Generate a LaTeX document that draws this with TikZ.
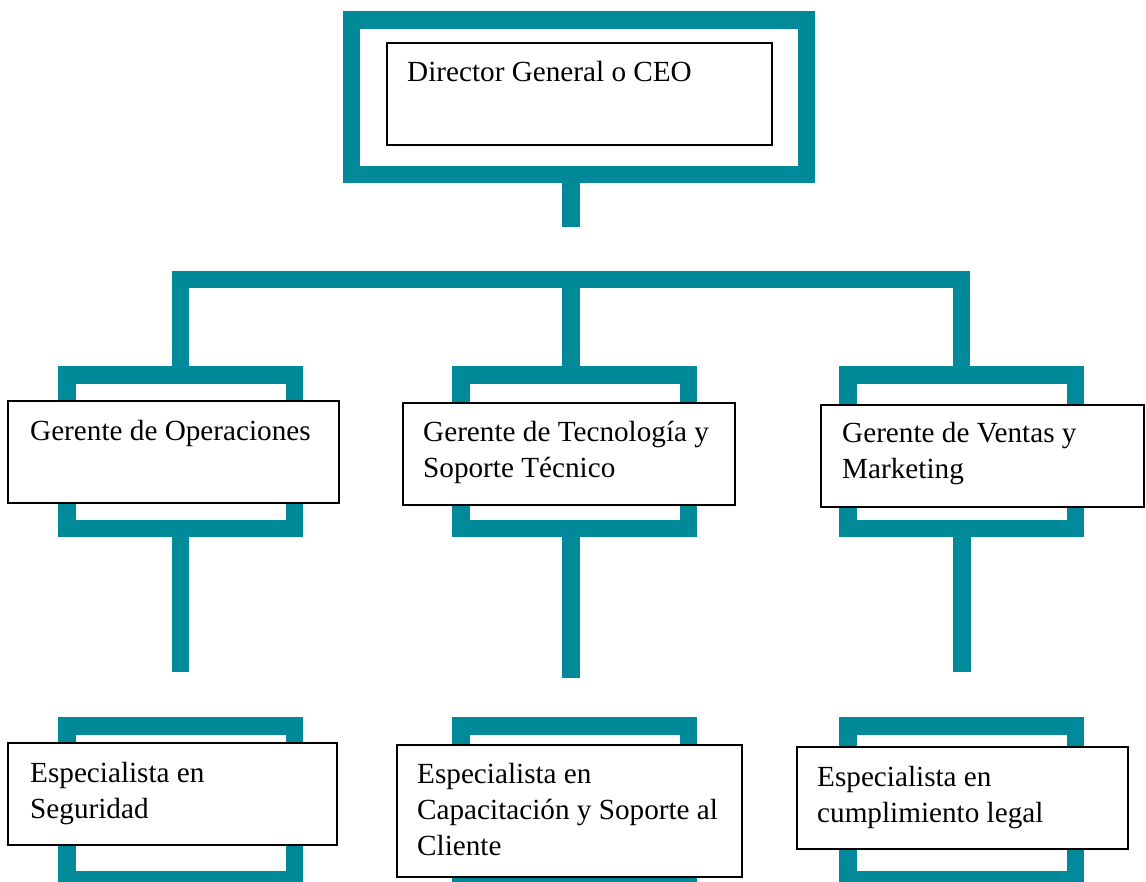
\documentclass[tikz,border=0pt]{standalone}
\usepackage{fontspec}
\setmainfont{Liberation Serif}
\definecolor{orgteal}{RGB}{0,137,153}
\tikzset{
  orgframe/.style={draw=orgteal, line width=17.5pt, minimum width=227.5pt, minimum height=153.5pt, inner sep=0pt},
  stem/.style={draw=orgteal, line width=17.5pt},
  namebox/.style={draw=black, line width=2pt, fill=white, inner sep=0pt},
  txt/.style={anchor=base west, inner sep=0pt, font=\fontsize{29.2}{36}\selectfont}
}
\newcommand{\lines}[1]{\begin{tabular}[t]{@{}l@{}}#1\end{tabular}}
\begin{document}
\begin{tikzpicture}[x=1pt,y=-1pt]
\useasboundingbox (0,0) rectangle (1146,881);
\node[orgframe, minimum width=455pt, minimum height=154.5pt] (ceoF) at (579,97.25) {};
\node[orgframe] (opsF) at (180.5,451.5) {};
\node[orgframe] (tecF) at (574.5,451.5) {};
\node[orgframe] (venF) at (961.5,451.5) {};
\node[orgframe] (segF) at (180.5,802.75) {};
\node[orgframe] (capF) at (574.5,802.75) {};
\node[orgframe] (legF) at (961.5,802.75) {};
\coordinate (c0) at (571,227);
\coordinate (bus) at (571,279.5);
\coordinate (s1) at (180.5,672);
\coordinate (s2) at (571,678);
\coordinate (s3) at (962,672);
\draw[stem] (c0 |- ceoF.south) -- (c0);
\draw[stem] (opsF.north) |- (bus) -| (venF.north);
\draw[stem] (bus) -- (bus |- tecF.north);
\draw[stem] (s1 |- opsF.south) -- (s1);
\draw[stem] (s2 |- tecF.south) -- (s2);
\draw[stem] (s3 |- venF.south) -- (s3);
\node[namebox, minimum width=385pt, minimum height=102pt] (ceo) at (579.5,94) {};
\node[namebox, minimum width=331pt, minimum height=102pt] (ops) at (173.5,452) {};
\node[namebox, minimum width=332pt, minimum height=102pt] (tec) at (569,454) {};
\node[namebox, minimum width=323pt, minimum height=102pt] (ven) at (982.5,456) {};
\node[namebox, minimum width=329pt, minimum height=102pt] (seg) at (172.5,794) {};
\node[namebox, minimum width=345pt, minimum height=132pt] (cap) at (569.5,811) {};
\node[namebox, minimum width=331pt, minimum height=102pt] (leg) at (962.5,798) {};
\node[txt] (ceoT) at (407,81) {Director General o CEO};
\node[txt] (opsT) at (30,440) {Gerente de Operaciones};
\node[txt] (tecT) at (423,441) {\lines{Gerente de Tecnología y\\Soporte Técnico}};
\node[txt] (venT) at (842,442) {\lines{Gerente de Ventas y\\Marketing}};
\node[txt] (segT) at (30,782) {\lines{Especialista en\\Seguridad}};
\node[txt] (capT) at (417,783) {\lines{Especialista en\\Capacitación y Soporte al\\Cliente}};
\node[txt] (legT) at (817,786) {\lines{Especialista en\\cumplimiento legal}};
\end{tikzpicture}
\end{document}
